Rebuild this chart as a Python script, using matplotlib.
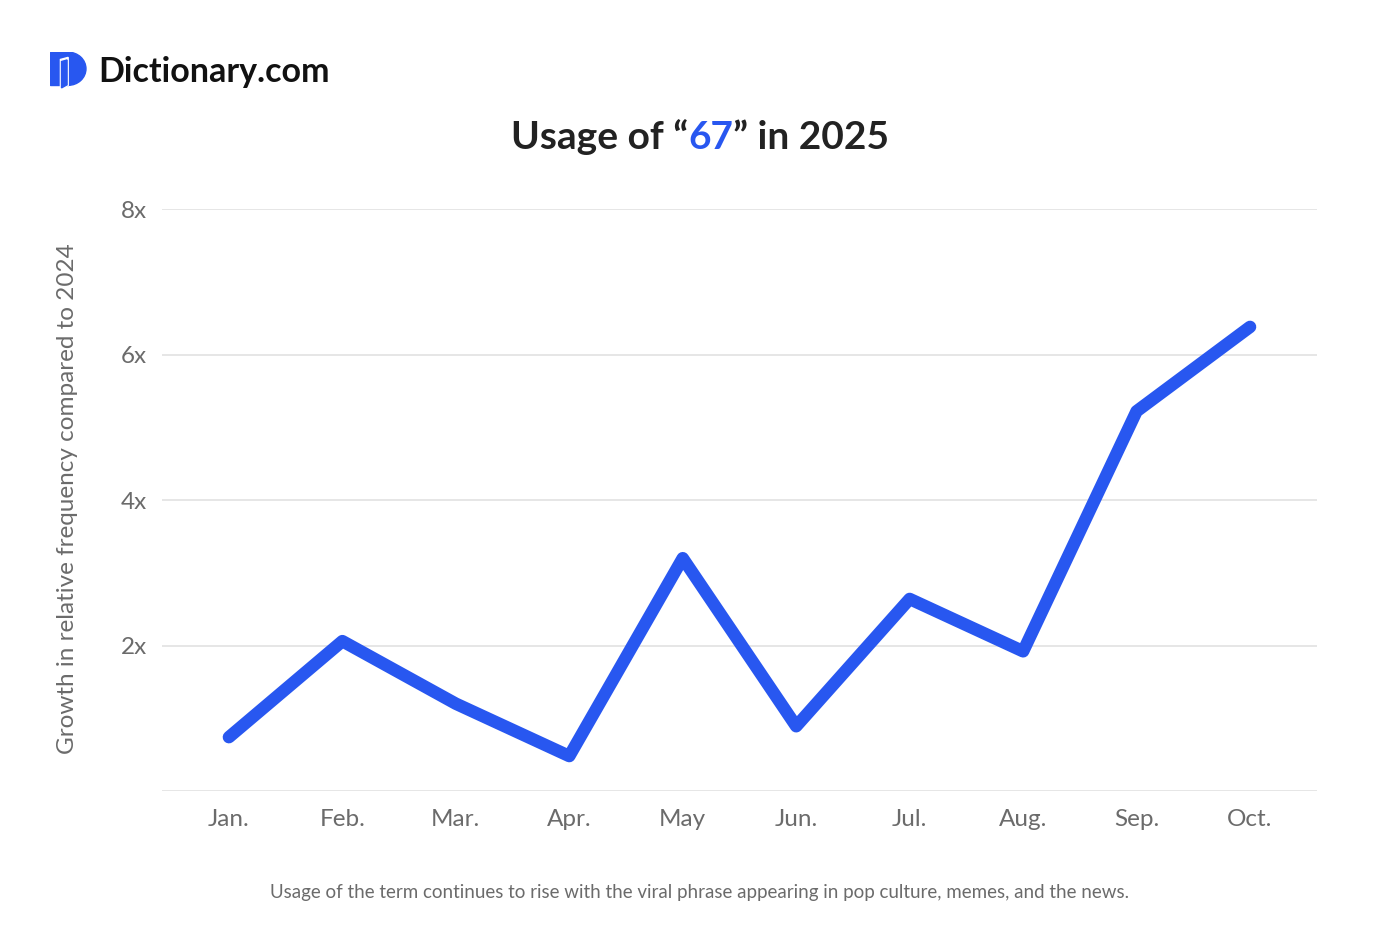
import numpy as np
import matplotlib.pyplot as plt
from matplotlib.patches import Polygon, Wedge, Rectangle

# data
months = ['Jan.', 'Feb.', 'Mar.', 'Apr.', 'May', 'Jun.', 'Jul.', 'Aug.', 'Sep.', 'Oct.']
growth = [0.74, 2.06, 1.20, 0.48, 3.20, 0.89, 2.64, 1.92, 5.22, 6.38]
y_ticks = [2, 4, 6, 8]
y_tick_labels = ['2x', '4x', '6x', '8x']

blue = '#2857f0'
grey_text = '#6b6b6b'
font = 'Lato'

plt.rcParams['font.family'] = [font, 'DejaVu Sans']

fig = plt.figure(figsize=(14, 9.32), dpi=100)
fig.patch.set_facecolor('white')
ax = fig.add_axes([0.1157, 0.1513, 0.825, 0.6244])

x = np.arange(len(months))
ax.plot(x, growth, color=blue, linewidth=9, solid_capstyle='round',
        solid_joinstyle='round', zorder=3)

ax.set_xlim(-0.59, 9.59)
ax.set_ylim(0, 8)
ax.set_yticks([0] + y_ticks)
ax.set_yticklabels([''] + y_tick_labels)
ax.set_xticks(x)
ax.set_xticklabels(months)
ax.grid(axis='y', color='#e2e2e2', linewidth=1.2)
ax.tick_params(axis='both', length=0, labelsize=17.5, labelcolor=grey_text)
ax.tick_params(axis='y', pad=11)
ax.tick_params(axis='x', pad=13)
for s in ax.spines.values():
    s.set_visible(False)
ax.set_ylabel('Growth in relative frequency compared to 2024', fontsize=17.5,
              color=grey_text)
ax.yaxis.set_label_coords(-0.073, 0.502)

# logo mark
logo = fig.add_axes([0.036, 0.904, 0.027, 0.04])
logo.set_xlim(0, 34)
logo.set_ylim(0, 36)
logo.axis('off')
logo.add_patch(Rectangle((0, 4), 16, 32, color=blue))
logo.add_patch(Wedge((16, 20), 16, -90, 90, color=blue))
logo.add_patch(Polygon([[9, 29], [16, 31], [16, 4], [9, 0]], closed=True,
                       color='white'))
logo.add_patch(Polygon([[10, 27], [15, 28.5], [15, 4.5], [10, 1.5]],
                       closed=True, color=blue))
fig.text(0.0705, 0.923, 'Dictionary.com', fontsize=24.5, fontweight='bold',
         color='#111111', va='center', ha='left')

# title with coloured "67"
parts = [('Usage of \u201c', '#222222'), ('67', blue), ('\u201d in 2025', '#222222')]
fig.canvas.draw()
renderer = fig.canvas.get_renderer()
texts = []
widths = []
for s, c in parts:
    t = fig.text(0, 0.853, s, fontsize=28, fontweight='bold', color=c,
                 va='center', ha='left')
    texts.append(t)
    widths.append(t.get_window_extent(renderer).width / fig.bbox.width)
start = 0.5 - sum(widths) / 2
for t, w in zip(texts, widths):
    t.set_x(start)
    start += w

fig.text(0.5, 0.042, 'Usage of the term continues to rise with the viral phrase '
         'appearing in pop culture, memes, and the news.',
         fontsize=13.5, color=grey_text, ha='center', va='center')

plt.savefig('out.png', dpi=100)
